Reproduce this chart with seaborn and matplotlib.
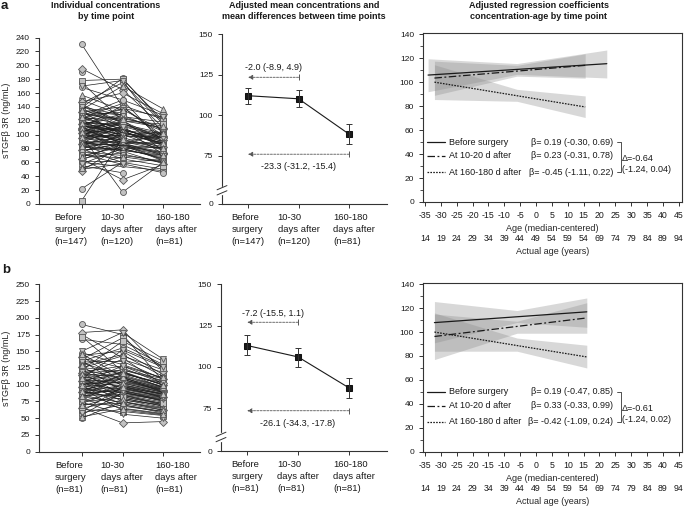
import matplotlib
matplotlib.use("Agg")
import matplotlib.pyplot as plt
import matplotlib.transforms as mtransforms
import numpy as np
import pandas as pd
import seaborn as sns

N = None

# ---- individual concentrations, panel a (None = no sample at that visit) ----
before_a = [230, 195, 190, 178, 175, 170, 168, 157, 150, 147,
            145, 143, 141, 140, 138, 136, 135, 133, 131, 130,
            129, 128, 126, 125, 124, 123, 122, 121, 120, 119,
            118, 117, 116, 115, 115, 114, 113, 112, 111, 110,
            110, 109, 108, 107, 106, 105, 105, 104, 103, 102,
            101, 100, 100, 99, 98, 97, 96, 95, 94, 93,
            92, 91, 90, 89, 88, 87, 86, 85, 84, 83,
            82, 80, 79, 78, 76, 75, 74, 72, 70, 68,
            66, 65, 63, 62, 60, 58, 55, 52, 50, 48,
            22, 5, 127, 113, 98, 88, 134, 108, 118, 102,
            96, 124, 139, 84, 92, 106, 116, 71, 77, 100]
mid_a = [140, 165, N, 180, 120, 178, 150, 135, N, 160,
         175, 118, N, 128, 110, 170, 95, 140, 122, N,
         132, 100, 115, N, 145, 108, 126, 92, 105, 138,
         112, N, 98, 125, 85, 130, 104, N, 117, 96,
         142, 88, 119, N, 101, 110, 76, 123, 94, 107,
         N, 115, 86, 99, 129, 80, N, 109, 92, 120,
         103, 72, N, 90, 113, 84, 97, 65, N, 106,
         78, 94, 60, N, 88, 70, 102, 57, 82, N,
         74, 35, 90, 62, N, 80, 45, 68, 58, 85,
         60, 95, 150, 100, 17, N, 128, 91, 114, 83,
         99, 136, 181, N, 75, 116, 105, 66, 87, 111]
late_a = [95, 110, N, 120, N, 100, 88, N, 105, 130,
          115, N, 92, N, 85, 137, N, 98, 76, 110,
          N, 80, 102, 90, N, 72, 118, N, 84, 125,
          96, 88, N, 108, 62, N, 90, 100, N, 78,
          122, N, 94, 70, N, 86, 58, 112, N, 92,
          83, N, 75, 104, N, 65, 98, N, 80, 115,
          N, 60, 87, N, 100, 74, N, 55, 90, 95,
          68, N, 50, 82, N, 62, 93, N, 70, 103,
          N, 57, 78, N, 48, 66, N, 60, 45, 73,
          64, N, 128, 88, 60, 81, N, 97, N, 72,
          N, 106, 117, 70, N, 95, 85, N, 63, N]

# ---- individual concentrations, panel b (complete cases) ----
before_b = [190, 178, 175, 172, 168, 150, 148, 146, 144, 142,
            140, 138, 136, 134, 132, 130, 128, 126, 124, 122,
            120, 119, 118, 116, 115, 114, 112, 111, 110, 109,
            108, 107, 106, 105, 104, 103, 102, 101, 100, 99,
            98, 97, 96, 95, 94, 93, 92, 91, 90, 89,
            88, 87, 86, 85, 84, 83, 82, 80, 78, 76,
            75, 74, 72, 70, 68, 66, 65, 63, 60, 58,
            55, 52, 50, 117, 105, 96, 125, 88, 135, 110,
            101]
mid_b = [175, 182, 140, 120, 160, 178, 130, 112, 150, 105,
         125, 170, 98, 135, 115, 145, 90, 118, 108, 165,
         100, 128, 85, 112, 138, 95, 122, 80, 110, 152,
         88, 103, 117, 75, 98, 128, 92, 108, 84, 120,
         70, 102, 113, 95, 62, 88, 106, 78, 99, 116,
         82, 93, 68, 110, 85, 96, 74, 100, 65, 90,
         80, 56, 94, 72, 86, 43, 77, 60, 97, 70,
         88, 64, 75, 122, 108, 82, 143, 91, 155, 118,
         104]
late_b = [105, 120, 100, 95, 130, 138, 110, 88, 115, 92,
          102, 125, 80, 108, 97, 112, 75, 100, 90, 135,
          86, 104, 70, 96, 118, 82, 106, 68, 94, 126,
          78, 88, 101, 62, 85, 110, 76, 93, 72, 99,
          58, 90, 97, 84, 55, 79, 92, 66, 87, 103,
          70, 82, 60, 95, 74, 86, 64, 89, 57, 80,
          68, 50, 83, 62, 77, 45, 70, 54, 86, 60,
          76, 56, 65, 109, 93, 72, 122, 81, 128, 100,
          91]

time_pos = [0, 1, 2]
time_labels_a = ["Before\nsurgery\n(n=147)", "10-30\ndays after\n(n=120)", "160-180\ndays after\n(n=81)"]
time_labels_b = ["Before\nsurgery\n(n=81)", "10-30\ndays after\n(n=81)", "160-180\ndays after\n(n=81)"]
marker_cycle = ["o", "D", "o", "s", "o", "v", "o", "^"]

# ---- adjusted means with 95% CI ----
mean_a = [112.0, 110.1, 88.2]
mean_lo_a = [107.0, 104.8, 82.0]
mean_hi_a = [117.0, 115.5, 94.4]
mean_b = [112.9, 106.0, 87.3]
mean_lo_b = [106.9, 100.0, 81.0]
mean_hi_b = [119.0, 111.7, 93.5]
diff_text_a = ["-2.0 (-8.9, 4.9)", "-23.3 (-31.2, -15.4)"]
diff_text_b = ["-7.2 (-15.5, 1.1)", "-26.1 (-34.3, -17.8)"]
diff_from = [1, 2]

# ---- regression lines (age, median-centred) and CI bands ----
series_names = ["Before surgery", "At 10-20 d after", "At 160-180 d after"]
reg_x_a = [[-34, 22.3], [-32, 15.5], [-32, 15.5]]
reg_y_a = [[105.9, 115.4], [103.4, 114.0], [100.0, 79.3]]
band_x_a = [[-34, -6, 22.3], [-32, -6, 15.5], [-32, -6, 15.5]]
band_lo_a = [[92, 106.5, 103.5], [89, 105, 103.3], [85.5, 84, 70.5]]
band_hi_a = [[119.5, 115.5, 126.8], [117.5, 114, 123.6], [114.5, 94, 88.5]]
beta_a = ["β= 0.19 (-0.30, 0.69)", "β= 0.23 (-0.31, 0.78)", "β= -0.45 (-1.11, 0.22)"]
delta_a = "Δ=-0.64\n(-1.24, 0.04)"

reg_x_b = [[-32, 16], [-32, 16], [-32, 16]]
reg_y_b = [[107.9, 116.9], [96.3, 111.8], [100.0, 79.2]]
band_x_b = [[-32, -6, 16], [-32, -6, 16], [-32, -6, 16]]
band_lo_b = [[91, 108, 104], [77, 99, 99], [84, 84, 70]]
band_hi_b = [[125.5, 118, 128.5], [115, 109, 124.5], [116, 95, 89]]
beta_b = ["β= 0.19 (-0.47, 0.85)", "β= 0.33 (-0.33, 0.99)", "β= -0.42 (-1.09, 0.24)"]
delta_b = "Δ=-0.61\n(-1.24, 0.02)"

age_ticks = [-35, -30, -25, -20, -15, -10, -5, 0, 5, 10, 15, 20, 25, 30, 35, 40, 45]
actual_age_labels = ["14", "19", "24", "29", "34", "39", "44", "49", "54", "59",
                     "54", "69", "74", "79", "84", "89", "94"]

sns.set_theme(style="ticks")
plt.rcParams["font.family"] = ["Liberation Sans", "DejaVu Sans"]
plt.rcParams.update({
    "font.size": 6.5, "axes.linewidth": 0.8, "axes.edgecolor": "#333333",
    "axes.unicode_minus": False,
    "xtick.color": "#333333", "ytick.color": "#333333",
    "xtick.labelcolor": "#1a1a1a", "ytick.labelcolor": "#1a1a1a",
    "xtick.major.size": 3, "ytick.major.size": 3,
    "xtick.major.width": 0.7, "ytick.major.width": 0.7,
    "xtick.labelsize": 6, "ytick.labelsize": 6, "text.color": "#1a1a1a",
})

W, H = 685, 509
fig = plt.figure(figsize=(W / 100, H / 100), dpi=100)


def px_rect(left, top, right, bottom):
    return [left / W, 1 - bottom / H, (right - left) / W, (bottom - top) / H]


def category_labels(ax, labels, shifts):
    # multi-line labels, left-aligned block, nudged sideways by a few pixels
    ax.set_xticks(time_pos, labels, fontsize=6.8, linespacing=1.45, multialignment="left")
    for lbl, dx in zip(ax.get_xticklabels(), shifts):
        lbl.set_transform(lbl.get_transform() +
                          mtransforms.ScaledTranslation(dx / 100, 0, fig.dpi_scale_trans))


def long_table(before, mid, late):
    rows = []
    for i, vals in enumerate(zip(before, mid, late)):
        for t, v in zip(time_pos, vals):
            if v is not None:
                rows.append({"subject": i, "time": t, "value": v,
                             "shape": marker_cycle[i % len(marker_cycle)]})
    return pd.DataFrame(rows)


def draw_individual(ax, before, mid, late, labels, yticks):
    df = long_table(before, mid, late)
    sns.lineplot(data=df, x="time", y="value", units="subject", estimator=None,
                 style="shape", markers={m: m for m in set(marker_cycle)}, dashes=False,
                 color="#202020", lw=0.5, markersize=4.3, markerfacecolor="#c2c2c2",
                 markeredgecolor="#555555", markeredgewidth=0.6, legend=False, ax=ax)
    ax.set_xlim(-1.05, 2.9)
    ax.set_ylim(yticks[0], yticks[-1])
    ax.set_yticks(yticks)
    category_labels(ax, labels, [-11, -1, 13])
    ax.set_xlabel("")
    ax.set_ylabel("sTGFβ 3R (ng/mL)", fontsize=6.5)
    ax.yaxis.set_label_coords(-0.175, 0.5)
    sns.despine(ax=ax)


def draw_means(ax, means, lo, hi, labels, y_bottom, diff_text, diff_y, text_y, brk_y):
    sns.lineplot(x=time_pos, y=means, ax=ax, estimator=None, color="#1a1a1a", lw=0.8,
                 marker="s", markersize=4.5, markeredgecolor="#111111")
    ax.errorbar(time_pos, means, yerr=[np.subtract(means, lo), np.subtract(hi, means)],
                fmt="none", ecolor="#333333", elinewidth=0.7, capsize=2.5, capthick=0.7)
    for src, y, txt, ty in zip(diff_from, diff_y, diff_text, text_y):
        ax.annotate("", xy=(time_pos[0], y), xytext=(src, y),
                    arrowprops=dict(arrowstyle="-|>", mutation_scale=7, color="#555555",
                                    lw=0.6, ls=(0, (2.5, 1.5)), shrinkA=0, shrinkB=0))
        ax.plot([src], [y], marker="|", markersize=4, color="#555555", mew=0.7)
        ax.text(src / 2, ty, txt, ha="center", va="center", fontsize=6.5)
    ax.set_xlim(-0.515, 2.75)
    ax.set_ylim(y_bottom, 150)
    ax.set_yticks([y_bottom, 75, 100, 125, 150], ["0", "75", "100", "125", "150"])
    category_labels(ax, labels, [0, 0, 5])
    sns.despine(ax=ax)
    # axis break on the y spine
    trans = ax.get_yaxis_transform()
    ax.plot([0, 0], [brk_y - 1.6, brk_y + 1.6], color="white", lw=2.5,
            transform=trans, clip_on=False, zorder=5)
    for yb in (brk_y - 1.6, brk_y + 1.6):
        ax.plot([-0.03, 0.03], [yb - 1.3, yb + 1.3], color="#333333", lw=0.7,
                transform=trans, clip_on=False, zorder=6)


line_styles = ["-", (0, (6, 2, 1.5, 2)), (0, (1.3, 1))]


def draw_regression(ax, xs, ys, bx, blo, bhi, betas, delta):
    for k in range(3):
        ax.fill_between(bx[k], blo[k], bhi[k], color="#8a8a8a", alpha=0.33, lw=0)
    for k in range(3):
        sns.lineplot(x=xs[k], y=ys[k], ax=ax, estimator=None, color="#1a1a1a",
                     lw=0.9, linestyle=line_styles[k])
    rows_y = [50, 38.5, 25]
    for k in range(3):
        ax.plot([-34.3, -28.6], [rows_y[k]] * 2, color="#1a1a1a", lw=0.9, linestyle=line_styles[k])
        ax.text(-27.4, rows_y[k], series_names[k], va="center", fontsize=6.5)
        ax.text(24.3, rows_y[k], betas[k], va="center", ha="right", fontsize=6.5)
    ax.plot([25.6, 26.7, 26.7, 25.6], [rows_y[0], rows_y[0], rows_y[2], rows_y[2]],
            color="#333333", lw=0.6)
    ax.text(27.0, 31.7, delta, va="center", ha="left", fontsize=6.5, linespacing=1.3)
    ax.set_xlim(-35.6, 46)
    ax.set_ylim(0, 141)
    ax.set_xticks(age_ticks)
    ax.set_yticks([0, 20, 40, 60, 80, 100, 120, 140])
    ax.set_yticks([10, 30, 50, 70, 90, 110, 130], minor=True)
    ax.tick_params(which="minor", length=2, width=0.6)
    ax.tick_params(axis="x", labelsize=6.3)
    ax.set_xlabel("Age (median-centered)", fontsize=6.5, labelpad=3)
    sec = ax.secondary_xaxis(-0.19)
    sec.set_xticks(age_ticks, actual_age_labels)
    sec.tick_params(length=0, pad=0, labelsize=6.3)
    sec.spines["bottom"].set_visible(False)
    sec.set_xlabel("Actual age (years)", fontsize=6.5, labelpad=3)


# ---- row a ----
ax = fig.add_axes(px_rect(39, 37.5, 200, 204))
draw_individual(ax, before_a, mid_a, late_a, time_labels_a, list(range(0, 241, 20)))
ax = fig.add_axes(px_rect(222, 34.3, 387, 204))
draw_means(ax, mean_a, mean_lo_a, mean_hi_a, time_labels_a, 45, diff_text_a,
           [123.4, 75.8], [129.5, 68.0], 53.5)
ax = fig.add_axes(px_rect(423, 33, 682, 202))
draw_regression(ax, reg_x_a, reg_y_a, band_x_a, band_lo_a, band_hi_a, beta_a, delta_a)

# ---- row b ----
ax = fig.add_axes(px_rect(39, 284.3, 200, 451.7))
draw_individual(ax, before_b, mid_b, late_b, time_labels_b, list(range(0, 251, 25)))
ax = fig.add_axes(px_rect(221, 284.3, 387, 451))
draw_means(ax, mean_b, mean_lo_b, mean_hi_b, time_labels_b, 49, diff_text_b,
           [127.0, 73.4], [132.5, 65.5], 57.5)
ax = fig.add_axes(px_rect(423, 283, 682, 451.7))
draw_regression(ax, reg_x_b, reg_y_b, band_x_b, band_lo_b, band_hi_b, beta_b, delta_b)

# titles and panel letters
title_kw = dict(ha="center", va="top", fontsize=6.5, fontweight="bold", linespacing=1.3)
fig.text(106 / W, 1 - 1 / H, "Individual concentrations\nby time point", **title_kw)
fig.text(304 / W, 1 - 1 / H, "Adjusted mean concentrations and\nmean differences between time points", **title_kw)
fig.text(539 / W, 1 - 1 / H, "Adjusted regression coefficients\nconcentration-age by time point", **title_kw)
fig.text(1 / W, 1 - 0 / H, "a", ha="left", va="top", fontsize=9.5, fontweight="bold")
fig.text(2 / W, 1 - 264 / H, "b", ha="left", va="top", fontsize=9.5, fontweight="bold")

fig.savefig("out.png", dpi=100)
